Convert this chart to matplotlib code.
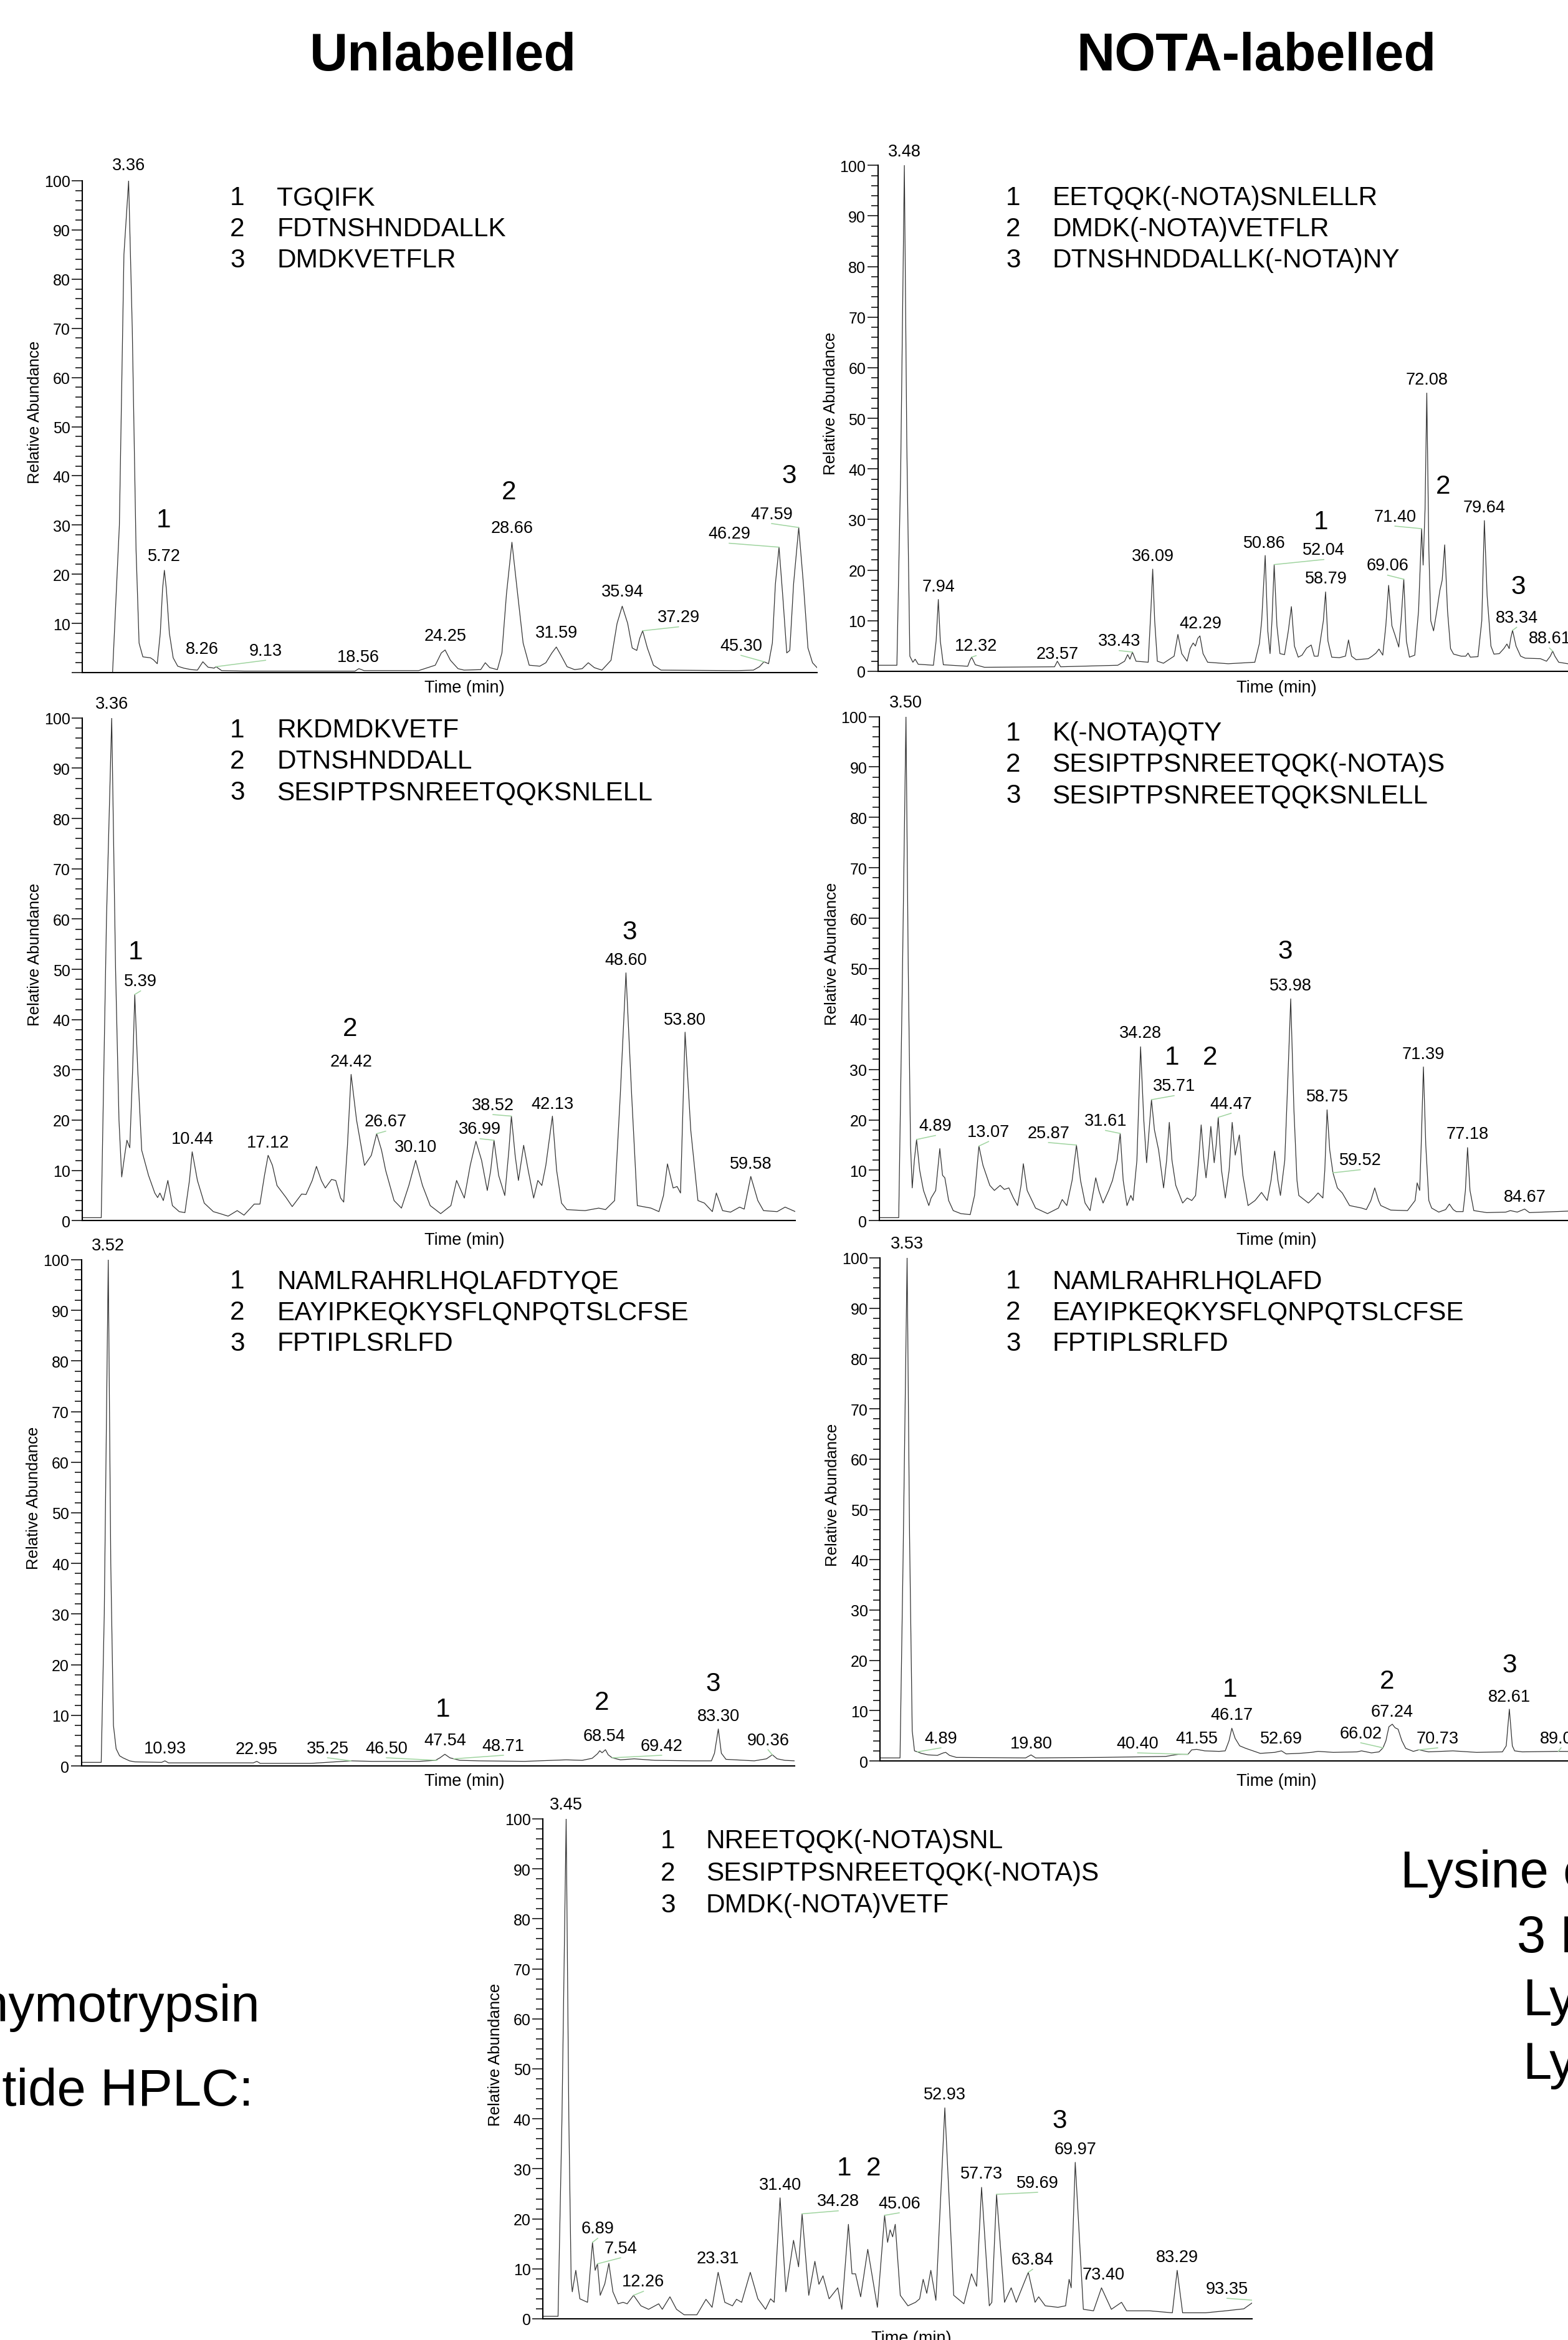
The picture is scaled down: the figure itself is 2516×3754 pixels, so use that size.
import matplotlib
matplotlib.use("Agg")
import matplotlib.pyplot as plt
import numpy as np

# ---------------------------------------------------------------- data
titles = ["Unlabelled", "NOTA-labelled"]

# chromatogram traces: (time min, relative abundance)
p1_trace = [(0.3,0.0),(2.3,0.0),(2.75,30),(3.05,85),(3.36,100),(3.6,70),(3.85,25),(4.05,6),(4.3,3.2),(4.8,3.0),(5.0,2.6),(5.25,1.8),(5.45,8),(5.6,17),(5.72,20.8),(5.85,17),(6.05,8),(6.3,3),(6.6,1.3),(7.0,0.9),(7.5,0.6),(7.9,0.5),(8.26,2.2),(8.6,1.1),(9.0,0.9),(9.13,1.2),(9.5,0.4),(11,0.3),(18.3,0.3),(18.56,0.8),(18.9,0.4),(22.5,0.4),(23.6,1.5),(24.0,4.0),(24.25,4.6),(24.6,2.5),(25.1,0.8),(25.5,0.5),(26.6,0.6),(26.9,2.0),(27.2,1.0),(27.7,0.6),(28.0,4),(28.3,16),(28.66,26.5),(29.0,17),(29.4,6),(29.8,1.5),(30.5,1.3),(30.9,2.0),(31.3,4.0),(31.59,5.2),(31.9,3.5),(32.3,1.2),(32.8,0.6),(33.3,0.8),(33.7,2.0),(34.1,1.0),(34.6,0.5),(35.2,2.5),(35.6,10),(35.94,13.5),(36.3,10),(36.6,5),(36.9,4.5),(37.1,7),(37.29,8.5),(37.6,5),(38.0,1.5),(38.5,0.5),(43.5,0.4),(44.6,0.5),(45.0,1.2),(45.30,2.2),(45.6,1.8),(45.85,6),(46.05,18),(46.29,25.5),(46.55,15),(46.8,4),(47.0,4.5),(47.25,18),(47.59,29.5),(47.9,18),(48.2,5),(48.5,2),(48.8,1)]
p2_trace = [(0,1.2),(2.5,1.2),(3.0,40),(3.48,100),(3.8,45),(4.2,3),(4.6,1.8),(4.9,2.4),(5.3,1.4),(7.3,1.2),(7.65,6),(7.94,14.2),(8.2,6),(8.6,1.3),(11.8,1.0),(12.1,2.2),(12.32,2.8),(12.8,1.3),(14,0.8),(23.2,0.9),(23.57,2.0),(24.0,0.9),(31.5,1.2),(32.4,2.0),(32.8,3.3),(33.1,2.4),(33.43,3.8),(33.9,2.0),(35.5,1.8),(35.85,12),(36.09,20.2),(36.35,10),(36.7,2),(37.5,1.6),(38.9,3.0),(39.4,7.3),(39.9,3.5),(40.6,2.0),(41.0,4.5),(41.4,5.6),(41.7,5.0),(42.0,6.5),(42.29,7.0),(42.7,3.5),(43.3,1.8),(46,1.5),(49.5,1.8),(50.1,5.5),(50.4,10),(50.86,22.9),(51.2,8),(51.5,3.5),(51.75,10),(52.04,21.1),(52.4,9),(52.8,3.5),(53.4,3.3),(53.9,8),(54.3,12.8),(54.7,5),(55.2,2.8),(55.7,3.2),(56.3,4.6),(56.9,5.2),(57.3,3.0),(57.8,3.0),(58.5,10),(58.79,15.7),(59.1,6),(59.6,2.8),(60.6,2.7),(61.4,3.0),(61.8,6.2),(62.2,3.0),(62.8,2.3),(64.4,2.5),(64.9,3.0),(65.4,3.6),(65.8,4.4),(66.3,3.2),(66.7,9),(67.07,17),(67.5,9),(67.9,7.2),(68.4,4.8),(68.7,10),(69.06,18.2),(69.4,6),(69.8,2.8),(70.5,3.2),(71.0,12),(71.40,28.2),(71.6,21),(71.85,32),(72.08,55),(72.35,24),(72.6,10),(72.97,8),(73.4,12),(73.8,16),(74.1,18),(74.43,25),(74.8,12),(75.2,4.5),(75.6,3.4),(76.6,3.0),(77.2,3.0),(77.5,3.6),(77.8,2.8),(78.8,2.9),(79.3,10),(79.64,29.8),(80.0,15),(80.5,5),(80.9,3.4),(81.6,3.5),(82.2,4.5),(82.6,5.4),(82.9,4.5),(83.1,6.5),(83.34,8.1),(83.8,5),(84.4,3.0),(85.0,2.6),(87.0,2.5),(87.8,2.0),(88.3,3.0),(88.61,4.0),(88.9,3.0),(89.4,1.8),(90.6,1.5),(104,1.5)]
p3_trace = [(0.77,0.6),(2.44,0.6),(2.9,60),(3.36,100),(3.7,50),(4.0,20),(4.24,8.7),(4.5,13),(4.7,16),(4.95,14.5),(5.2,30),(5.39,45),(5.65,30),(6.0,14),(6.6,9),(7.15,5.5),(7.4,4.6),(7.6,5.5),(7.9,4.0),(8.3,8.0),(8.7,3.0),(9.3,1.8),(9.8,1.6),(10.2,8),(10.44,13.7),(10.9,8),(11.5,3.5),(12.3,1.8),(12.9,1.4),(13.6,0.9),(14.4,2.0),(15.0,1.1),(15.9,3.3),(16.4,3.3),(16.8,9),(17.12,13),(17.5,11),(17.9,7),(18.7,4.6),(19.24,2.8),(20.07,5.3),(20.45,5.2),(21.0,8),(21.37,10.8),(21.8,8),(22.15,6.5),(22.7,8.2),(23.07,8.0),(23.5,4.5),(23.77,3.7),(24.1,15),(24.42,29.1),(24.9,20),(25.6,11),(26.2,13),(26.67,17.3),(27.1,14),(27.46,10),(28.2,4),(28.85,2.5),(29.5,7),(30.10,12),(30.7,7),(31.38,3),(32.3,1.4),(33.2,3),(33.7,8),(34.38,4.5),(34.9,11),(35.4,15.8),(35.9,12),(36.4,6),(36.7,10),(36.99,16.0),(37.4,9),(37.94,5),(38.3,14),(38.52,20.8),(38.85,13),(39.14,8),(39.6,15),(40.0,10),(40.48,4.5),(40.85,8),(41.2,7),(41.55,11),(42.13,20.8),(42.5,10),(42.93,3.5),(43.4,2.2),(45.0,2.0),(46.2,2.5),(46.8,2.2),(47.6,4),(48.1,25),(48.60,49.3),(49.1,25),(49.6,3),(50.8,2.5),(51.5,1.8),(51.9,5),(52.25,11.3),(52.75,6.5),(53.1,6.8),(53.4,5.5),(53.80,37.5),(54.3,18),(54.93,4),(55.5,3.5),(56.2,1.8),(56.55,5.5),(57.1,2.0),(57.8,1.7),(58.6,2.7),(59.0,2.3),(59.58,8.8),(60.2,4),(60.7,2),(61.9,1.8),(62.6,2.7),(63.5,1.8)]
p4_trace = [(0,0.6),(2.55,0.6),(3.0,45),(3.50,100),(3.8,50),(4.1,15),(4.32,6.5),(4.6,12),(4.89,16.1),(5.3,10),(5.8,6),(6.5,3),(6.8,4.5),(7.4,6),(7.94,14.3),(8.3,9),(8.6,8.5),(9.1,4),(9.7,2),(10.7,1.4),(11.93,1.2),(12.5,5),(13.07,14.8),(13.6,11),(14.5,7),(15.1,6),(15.86,7),(16.4,6.2),(17.0,6.5),(17.6,4.5),(18.14,3),(18.6,7),(18.9,11.3),(19.4,6),(20.5,2.5),(22.07,1.4),(23.5,2.5),(24.0,4.2),(24.6,3),(25.3,8),(25.87,15),(26.4,8),(27.0,3.5),(27.65,2),(28.0,5),(28.4,8.5),(28.8,6),(29.36,3.5),(30.1,6),(30.6,8),(31.2,12),(31.61,17.3),(32.0,8),(32.5,3),(33.0,5),(33.3,4),(33.8,12),(34.28,34.5),(34.7,20),(35.07,11.5),(35.4,18),(35.71,24),(36.1,18),(36.65,14),(37.3,6.5),(37.7,12),(38.05,19.5),(38.4,12),(38.9,7),(39.8,3.5),(40.4,4.5),(41.0,4),(41.5,5),(41.9,12),(42.23,19),(42.6,12),(42.87,8.5),(43.2,13),(43.5,18.7),(43.94,11.5),(44.2,15),(44.47,20.5),(44.9,10),(45.4,4.5),(45.9,10),(46.3,19.5),(46.7,13),(47.24,17),(47.7,9),(48.38,3),(49.3,4),(50.15,5.6),(50.9,4),(51.4,8),(51.87,13.8),(52.3,8),(52.63,5),(53.2,12),(53.6,28),(53.98,44),(54.4,22),(54.8,8),(55.04,5),(56.3,3.5),(57.0,4.5),(57.57,5.5),(58.2,4.5),(58.45,10),(58.75,22),(59.1,14),(59.52,9.5),(60.1,6.5),(60.74,5.5),(61.7,3),(63.3,2.5),(63.9,2.2),(64.5,4),(65.0,6.5),(65.5,4),(65.8,3),(67.1,2.1),(69.3,2.0),(70.3,4),(70.57,7.5),(70.9,6),(71.1,15),(71.39,30.5),(71.7,15),(72.1,4),(72.47,2.5),(73.4,1.7),(74.3,2.2),(74.8,3.3),(75.3,2.2),(75.7,1.8),(76.6,1.8),(76.9,6),(77.18,14.5),(77.5,6),(78.0,2),(79.7,1.6),(82.2,1.7),(82.8,2.0),(83.7,1.7),(84.67,2.3),(85.3,1.6),(90.4,1.9),(104,1.9)]
p5_trace = [(0,0.7),(2.6,0.7),(3.0,30),(3.52,100),(3.85,40),(4.2,8),(4.55,3.4),(5.0,2.0),(5.44,1.6),(6.3,1.0),(7.0,0.8),(10.5,0.7),(10.93,1.0),(11.4,0.6),(16,0.6),(22.5,0.6),(22.95,0.9),(23.4,0.5),(30,0.5),(35.25,1.0),(38,0.9),(44.2,0.9),(46.3,1.1),(46.9,1.6),(47.54,2.3),(48.2,1.6),(48.71,1.4),(49.5,1.1),(52,1.0),(58,0.9),(63.4,1.2),(65.5,1.1),(66.8,1.5),(67.5,2.4),(67.8,3.0),(68.1,2.6),(68.54,3.2),(68.9,2.2),(69.42,1.6),(70.5,1.2),(72.3,1.4),(75,1.1),(80,1.0),(82.4,1.0),(82.8,2.5),(83.30,7.3),(83.7,2.5),(84.3,1.3),(88,1.0),(89.6,1.4),(90.36,2.2),(91.0,1.4),(92,1.1),(93.3,1.0)]
p6_trace = [(0,0.6),(2.6,0.6),(3.0,40),(3.53,100),(3.85,45),(4.2,6),(4.5,2.0),(4.89,1.8),(5.4,1.5),(6.3,1.2),(7.5,1.1),(8.3,1.6),(8.6,1.7),(9.1,1.1),(10,0.7),(19.1,0.6),(19.80,1.2),(20.4,0.6),(29,0.7),(33.5,0.8),(37.5,0.9),(39.1,1.3),(40.40,1.3),(40.9,2.2),(41.55,2.3),(42.6,2.0),(44.5,1.9),(45.3,2.0),(45.8,4.0),(46.17,6.5),(46.6,4.5),(47.2,3.0),(48,2.5),(49.9,1.5),(51.8,1.7),(52.69,2.0),(53.3,1.4),(55,1.5),(56.6,1.7),(57.5,1.9),(59.5,1.7),(62.6,1.8),(63.2,2.0),(64.5,1.6),(65.5,1.8),(66.02,2.6),(66.4,4.0),(66.8,6.8),(67.24,7.3),(67.6,6.6),(68.0,6.3),(68.5,4),(69.0,2.5),(70.0,1.9),(70.73,2.2),(72.0,1.8),(75.2,2.0),(78.3,1.7),(81.7,1.8),(82.2,3),(82.61,10.3),(83.0,3),(83.3,2.0),(84.3,1.8),(89.0,1.9),(104,1.8)]
p7_trace = [(0.39,0.5),(2.39,0.5),(2.9,40),(3.45,100),(3.8,40),(4.1,8),(4.25,5.4),(4.71,9.7),(5.24,4.0),(6.24,3.3),(6.5,8),(6.89,15.3),(7.24,9.7),(7.54,11.0),(7.9,4.7),(8.5,7),(9.03,11.1),(9.56,5.4),(10.23,3.0),(10.89,3.3),(11.42,3.0),(12.26,4.7),(13.22,2.6),(14.22,1.9),(15.54,3.0),(16.01,1.9),(17.01,4.4),(17.87,1.9),(18.87,0.8),(20.53,0.8),(21.72,3.9),(22.52,2.3),(23.31,9.3),(24.18,3.3),(25.18,2.6),(25.71,3.9),(26.38,3.3),(27.51,9.3),(28.5,4.0),(29.5,1.9),(30.16,4.0),(30.63,3.3),(31.40,24.2),(32.16,5.4),(33.16,15.7),(33.82,10.4),(34.28,21.0),(35.15,4.7),(35.95,11.5),(36.48,6.9),(37.01,8.6),(37.81,4.0),(38.94,6.2),(39.47,1.9),(40.33,18.9),(40.8,9.0),(41.26,9.0),(41.93,4.4),(42.86,13.9),(44.12,2.3),(45.06,20.7),(45.45,15.3),(45.78,17.8),(46.11,16.4),(46.45,18.9),(47.11,4.7),(48.11,2.6),(49.1,3.3),(49.64,4.0),(50.1,7.9),(50.57,5.1),(51.1,9.7),(51.76,3.7),(52.93,42.2),(54.09,4.7),(55.42,3.0),(56.41,9.0),(57.08,6.5),(57.73,26.3),(58.74,2.6),(59.07,3.3),(59.69,24.9),(60.73,3.3),(61.6,6.2),(62.26,3.3),(63.39,7.6),(63.84,9.3),(64.72,3.3),(65.19,4.4),(66.05,2.6),(67.71,2.3),(68.71,2.6),(69.17,7.9),(69.44,6.2),(69.97,31.3),(71.03,1.9),(72.36,1.6),(73.40,6.2),(74.69,1.9),(76.02,3.3),(76.68,1.6),(79.67,1.6),(82.66,1.2),(83.29,9.7),(84.0,1.2),(86.98,1.2),(89.64,1.6),(92.0,2.0),(93.1,3.2)]

# labelled peaks: retention time text and apex height
p1_rt = ["3.36","5.72","8.26","9.13","18.56","24.25","28.66","31.59","35.94","37.29","45.30","46.29","47.59"]
p1_ht = [100,20.8,2.2,1.2,0.8,4.6,26.5,5.2,13.5,8.5,2.2,25.5,29.5]
p2_rt = ["3.48","7.94","12.32","23.57","33.43","36.09","42.29","50.86","52.04","58.79","69.06","71.40","72.08","79.64","83.34","88.61"]
p2_ht = [100,14.2,2.8,2.0,3.8,20.2,7.0,22.9,21.1,15.7,18.2,28.2,55,29.8,8.1,4.0]
p3_rt = ["3.36","5.39","10.44","17.12","24.42","26.67","30.10","36.99","38.52","42.13","48.60","53.80","59.58"]
p3_ht = [100,45,13.7,13,29.1,17.3,12,16.0,20.8,20.8,49.3,37.5,8.8]
p4_rt = ["3.50","4.89","13.07","25.87","31.61","34.28","35.71","44.47","53.98","58.75","59.52","71.39","77.18","84.67"]
p4_ht = [100,16.1,14.8,15.0,17.3,34.5,24.0,20.5,44,22,9.5,30.5,14.5,2.3]
p5_rt = ["3.52","10.93","22.95","35.25","46.50","47.54","48.71","68.54","69.42","83.30","90.36"]
p5_ht = [100,1.0,0.9,1.0,1.1,2.3,1.4,3.2,1.6,7.3,2.2]
p6_rt = ["3.53","4.89","19.80","40.40","41.55","46.17","52.69","66.02","67.24","70.73","82.61","89.05"]
p6_ht = [100,1.8,1.2,1.3,2.3,6.5,2.0,2.6,7.3,2.2,10.3,1.9]
p7_rt = ["3.45","6.89","7.54","12.26","23.31","31.40","34.28","45.06","52.93","57.73","59.69","63.84","69.97","73.40","83.29","93.35"]
p7_ht = [100,15.3,11.0,4.7,9.3,24.2,21.0,20.7,42.2,26.3,24.9,9.3,31.3,6.2,9.7,3.7]

# peptide identifications
p1_peptides = ["TGQIFK", "FDTNSHNDDALLK", "DMDKVETFLR"]
p2_peptides = ["EETQQK(-NOTA)SNLELLR", "DMDK(-NOTA)VETFLR", "DTNSHNDDALLK(-NOTA)NY"]
p3_peptides = ["RKDMDKVETF", "DTNSHNDDALL", "SESIPTPSNREETQQKSNLELL"]
p4_peptides = ["K(-NOTA)QTY", "SESIPTPSNREETQQK(-NOTA)S", "SESIPTPSNREETQQKSNLELL"]
p5_peptides = ["NAMLRAHRLHQLAFDTYQE", "EAYIPKEQKYSFLQNPQTSLCFSE", "FPTIPLSRLFD"]
p6_peptides = ["NAMLRAHRLHQLAFD", "EAYIPKEQKYSFLQNPQTSLCFSE", "FPTIPLSRLFD"]
p7_peptides = ["NREETQQK(-NOTA)SNL", "SESIPTPSNREETQQK(-NOTA)S", "DMDK(-NOTA)VETF"]

left_text = ["Chymotrypsin", "Peptide HPLC:"]
right_text = ["Lysine conjugation", "3 Lysines", "Lys", "Lys"]

# ---------------------------------------------------------------- layout (pixels)
W, H, DPI = 2516, 3755, 100
plt.rcParams['font.family'] = ['Liberation Sans', 'DejaVu Sans']

fig = plt.figure(figsize=(W / DPI, H / DPI), dpi=DPI)
fig.patch.set_facecolor("white")

def fx(x):
    return x / W

def fy(y):
    return 1 - y / H

# label anchor positions (time, bottom of label) for each labelled peak
p1_lab = [(3.36,101.5),(5.72,22),(8.21,3.2),(12.4,2.8),(18.53,1.5),(24.25,5.8),(28.66,27.8),(31.59,6.5),(35.94,14.8),(39.66,9.6),(43.78,3.8),(43.0,26.6),(45.8,30.6)]
p2_lab = [(3.48,101.2),(7.94,15.2),(12.9,3.4),(23.6,1.9),(31.7,4.4),(36.09,21.2),(42.38,7.9),(50.76,23.8),(58.56,22.4),(58.82,16.7),(66.94,19.3),(67.9,29.0),(72.08,56),(79.64,30.8),(83.88,9.0),(88.2,4.9)]
p3_lab = [(3.36,101.2),(5.9,46),(10.44,14.7),(17.12,13.9),(24.42,30),(27.46,18.1),(30.10,13),(35.77,16.6),(36.9,21.4),(42.13,21.6),(48.60,50.3),(53.80,38.4),(59.58,9.7)]
p4_lab = [(3.50,101.2),(7.37,17.2),(14.34,16),(22.2,15.8),(29.68,18.2),(34.28,35.6),(38.68,25.1),(46.16,21.6),(53.98,45),(58.75,23),(63.1,10.4),(71.39,31.5),(77.18,15.6),(84.67,3.1)]
p5_lab = [(3.52,101.2),(10.93,1.9),(22.9,1.7),(32.2,1.9),(39.9,1.9),(47.54,3.4),(55.2,2.4),(68.4,4.3),(75.9,2.4),(83.30,8.3),(89.8,3.5)]
p6_lab = [(3.53,101.2),(7.97,2.9),(19.8,1.8),(33.8,1.9),(41.6,2.9),(46.17,7.5),(52.69,2.9),(63.1,3.9),(67.24,8.2),(73.2,2.9),(82.61,11.2),(89.4,2.9)]
p7_lab = [(3.45,101.2),(7.57,16.4),(10.56,12.5),(13.55,5.8),(23.31,10.5),(31.40,25.2),(39.0,21.9),(46.97,21.5),(52.93,43.3),(57.73,27.4),(65.05,25.6),(64.4,10.2),(69.97,32.3),(73.7,7.2),(83.29,10.7),(89.8,4.4)]

# positions of the peptide number markers (time, abundance)
p1_num = [(5.68,31),(28.45,36.7),(46.97,40)]
p2_num = [(58.2,29.6),(74.24,36.6),(84.1,16.8)]
p3_num = [(5.44,53.5),(24.32,38.2),(48.93,57.4)]
p4_num = [(38.43,32.4),(43.37,32.4),(53.26,53.4)]
p5_num = [(47.3,11.2),(68.07,12.6),(82.6,16.3)]
p6_num = [(45.9,14.2),(66.55,15.9),(82.6,19.1)]
p7_num = [(39.8,30.2),(43.6,30.2),(67.9,39.7)]

panels = [
    dict(trace=p1_trace, rt=p1_rt, ht=p1_ht, lab=p1_lab, num=p1_num, pep=p1_peptides,
         left=132, y100=291, y0=1080, xlim=(0.3, 48.8), ppm=24.31, show0=False,
         leg=(381, 444, [314, 364, 414]), tl=(745, 1104)),
    dict(trace=p2_trace, rt=p2_rt, ht=p2_ht, lab=p2_lab, num=p2_num, pep=p2_peptides,
         left=1408.6, y100=266.3, y0=1078, xlim=(0, 104), ppm=12.22, show0=True,
         leg=(1626, 1688, [314, 364, 414]), tl=(2048, 1104)),
    dict(trace=p3_trace, rt=p3_rt, ht=p3_ht, lab=p3_lab, num=p3_num, pep=p3_peptides,
         left=132, y100=1152.8, y0=1959.3, xlim=(0.77, 63.5), ppm=18.24, show0=True,
         leg=(381, 444, [1168, 1218, 1268]), tl=(745, 1990)),
    dict(trace=p4_trace, rt=p4_rt, ht=p4_ht, lab=p4_lab, num=p4_num, pep=p4_peptides,
         left=1410.9, y100=1150.5, y0=1959.3, xlim=(0, 104), ppm=12.23, show0=True,
         leg=(1626, 1688, [1173, 1223, 1273]), tl=(2048, 1990)),
    dict(trace=p5_trace, rt=p5_rt, ht=p5_ht, lab=p5_lab, num=p5_num, pep=p5_peptides,
         left=130.5, y100=2021.9, y0=2834, xlim=(0, 93.3), ppm=12.27, show0=True,
         leg=(381, 444, [2052, 2102, 2152]), tl=(745, 2858)),
    dict(trace=p6_trace, rt=p6_rt, ht=p6_ht, lab=p6_lab, num=p6_num, pep=p6_peptides,
         left=1412.4, y100=2019, y0=2826, xlim=(0, 104), ppm=12.22, show0=True,
         leg=(1626, 1688, [2052, 2102, 2152]), tl=(2048, 2858)),
    dict(trace=p7_trace, rt=p7_rt, ht=p7_ht, lab=p7_lab, num=p7_num, pep=p7_peptides,
         left=871, y100=2919, y0=3721, xlim=(0.4, 93.1), ppm=12.28, show0=True,
         leg=(1072, 1133, [2950, 3002, 3053]), tl=(1462, 3752)),
]

TRACE_COL = "#333333"
LEADER_COL = "#9fd49f"
LEG_FS = 30.5
PEAK_FS = 19.5
TICK_FS = 18

for p in panels:
    x0, x1 = p["xlim"]
    width_px = (x1 - x0) * p["ppm"]
    height_px = p["y0"] - p["y100"]
    ax = fig.add_axes([fx(p["left"]), fy(p["y0"]), width_px / W, height_px / H])
    ax.set_xlim(x0, x1)
    ax.set_ylim(0, 100)
    ax.patch.set_alpha(0)
    for s in ("top", "right"):
        ax.spines[s].set_visible(False)
    for s in ("left", "bottom"):
        ax.spines[s].set_linewidth(1.5)
    ax.set_xticks([])
    ax.set_yticks(np.arange(0, 101, 10))
    ax.set_yticks(np.arange(0, 101, 2), minor=True)
    labels = [str(v) for v in range(0, 101, 10)]
    if not p["show0"]:
        labels[0] = ""
    ax.set_yticklabels(labels)
    ax.tick_params(axis="y", which="major", length=12, width=1.1, labelsize=TICK_FS, pad=2)
    ax.tick_params(axis="y", which="minor", length=8, width=1.1)

    t = [a for a, b in p["trace"]]
    v = [b for a, b in p["trace"]]
    ax.plot(t, v, color=TRACE_COL, lw=0.9, solid_joinstyle="round")

    # peak labels and leaders
    for rt, ht, (lt, lv) in zip(p["rt"], p["ht"], p["lab"]):
        ax.text(lt, lv, rt, ha="center", va="bottom", fontsize=PEAK_FS, clip_on=False)
        if abs(lt - float(rt)) > 0.3:
            ax.plot([lt, float(rt)], [lv - 0.3, ht], color=LEADER_COL, lw=1.1)

    # peptide markers above peaks
    for i, (nt, nv) in enumerate(p["num"]):
        ax.text(nt, nv, str(i + 1), ha="center", va="center", fontsize=LEG_FS, clip_on=False)

    # legend of peptides
    nx, px_, rows = p["leg"]
    for i, (pep, ry) in enumerate(zip(p["pep"], rows)):
        fig.text(fx(nx), fy(ry + 15), str(i + 1), ha="center", va="baseline", fontsize=LEG_FS)
        fig.text(fx(px_), fy(ry + 15), pep, ha="left", va="baseline", fontsize=LEG_FS)

    # axis titles
    fig.text(fx(p["left"] - 76), fy(p["y100"] + 0.47 * height_px), "Relative Abundance",
             rotation=90, ha="center", va="center", fontsize=18.5)
    tx, ty = p["tl"]
    fig.text(fx(tx), fy(ty), "Time (min)", ha="center", va="center", fontsize=19.5)

# column titles
fig.text(fx(711), fy(113), titles[0], ha="center", va="baseline", fontsize=61, fontweight="bold")
fig.text(fx(2016), fy(113), titles[1], ha="center", va="baseline", fontsize=61, fontweight="bold")

# side text (cut by the figure edges, as in the source slide)
fig.text(fx(417), fy(3243), left_text[0], ha="right", va="baseline", fontsize=60)
fig.text(fx(407), fy(3378), left_text[1], ha="right", va="baseline", fontsize=60)
right_pos = [(2247, 3028), (2434, 3132), (2443, 3233), (2443, 3335)]
for txt, (rx, ry) in zip(right_text, right_pos):
    fig.text(fx(rx), fy(ry), txt, ha="left", va="baseline", fontsize=60)

fig.savefig("out.png", dpi=DPI, facecolor="white")
